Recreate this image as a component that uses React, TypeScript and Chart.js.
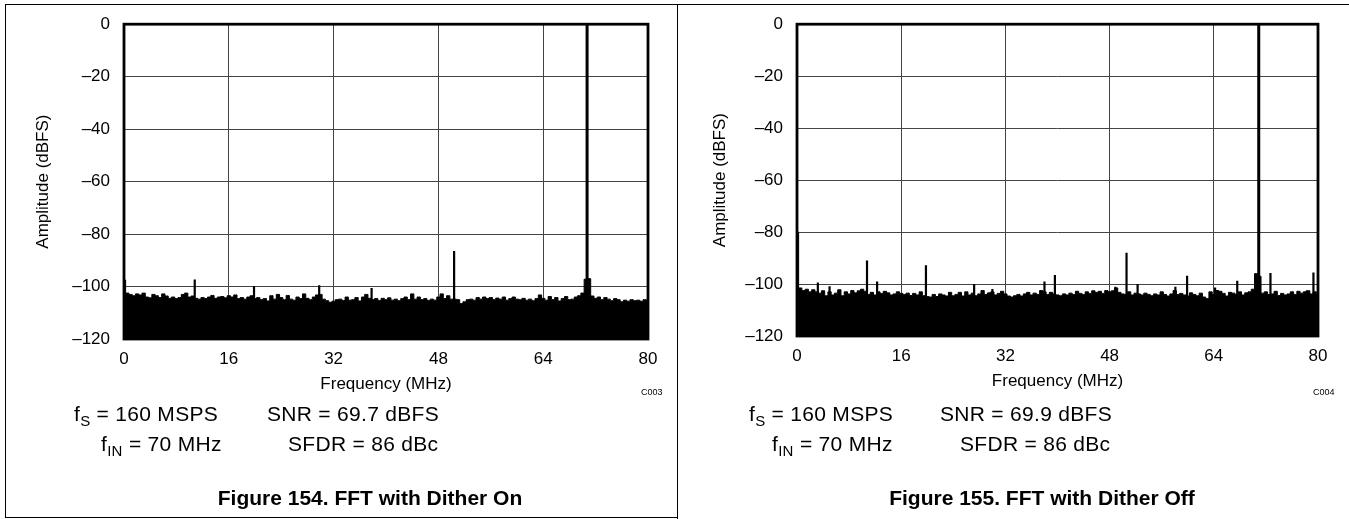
import React, { useEffect, useRef } from 'react';
import { Chart, registerables } from 'chart.js';

Chart.register(...registerables);

// ---------- data ----------
const xTickValues = [0, 16, 32, 48, 64, 80];
const yTickValues = [0, -20, -40, -60, -80, -100, -120];

// noise-floor envelope, one value every 0.5 MHz from 0 to 80 MHz
const noiseStepMHz = 0.5;

const ditherOnNoise = [
  -97.5, -102.5, -103.0, -103.5, -102.8, -103.2, -102.5, -104.0, -104.3, -103.0,
  -103.5, -104.2, -102.8, -103.6, -104.5, -104.0, -104.6, -104.2, -103.0, -102.5,
  -104.0, -103.6, -104.5, -104.8, -104.2, -104.6, -104.0, -103.4, -104.5, -104.0,
  -103.8, -104.3, -103.5, -104.0, -103.2, -104.6, -104.2, -104.8, -104.0, -103.5,
  -104.6, -104.2, -105.0, -104.6, -105.5, -103.5, -104.8, -103.0, -104.2, -105.0,
  -103.4, -104.8, -105.2, -104.0, -104.6, -102.8, -104.5, -105.0, -104.0, -103.2,
  -103.0, -104.8, -105.4, -106.0, -105.6, -105.0, -104.8, -105.3, -104.0, -105.2,
  -105.0, -104.2, -105.5, -104.0, -103.0, -104.5, -105.0, -104.6, -105.3, -104.5,
  -105.0, -104.3, -105.2, -104.8, -105.4, -104.6, -104.0, -105.0, -102.8, -104.8,
  -104.0, -105.0, -104.6, -105.3, -104.8, -105.2, -104.0, -102.8, -104.6, -103.5,
  -104.8, -104.8, -105.0, -106.5, -105.8, -105.0, -104.8, -105.2, -104.2, -104.8,
  -104.0, -104.6, -104.2, -105.0, -104.4, -104.8, -104.0, -105.2, -104.6, -104.0,
  -104.8, -105.0, -104.5, -105.2, -104.8, -105.4, -104.6, -103.2, -104.5, -105.2,
  -103.8, -105.0, -104.2, -105.5, -104.6, -103.8, -105.0, -104.8, -104.0, -103.5,
  -102.5, -97.2, -97.0, -103.6, -104.5, -104.0, -105.0, -104.2, -104.8, -105.4,
  -104.6, -105.0, -105.8, -105.2, -105.6, -105.0, -105.4, -105.2, -105.6, -105.0,
  -105.3,
];

const ditherOffNoise = [
  -80.0, -101.5, -102.5, -102.0, -103.0, -102.2, -103.0, -103.5, -102.6, -104.5,
  -103.0, -104.2, -103.5, -102.2, -104.5, -103.0, -103.8, -102.5, -103.4, -102.6,
  -102.0, -102.8, -104.0, -103.2, -104.2, -103.0, -103.6, -102.8, -103.4, -104.2,
  -103.8, -103.0, -103.6, -104.0, -103.5, -104.4, -103.6, -104.2, -103.0, -104.5,
  -104.8, -105.0, -104.0, -104.8, -103.8, -104.2, -104.6, -103.2, -104.5, -104.0,
  -103.2, -104.6, -103.0, -104.2, -103.5, -104.5, -103.8, -102.5, -104.0, -103.4,
  -103.0, -104.2, -103.6, -102.8, -103.8, -104.6, -105.0, -104.5, -104.0, -104.6,
  -103.8, -103.2, -104.2, -103.5, -104.0, -102.5, -103.0, -104.0, -103.2, -103.8,
  -104.2, -104.5, -103.8, -104.2, -103.5, -104.0, -102.8, -103.6, -104.0, -103.0,
  -103.6, -102.6, -103.2, -102.8, -103.6, -102.5, -103.0, -102.6, -101.5, -103.2,
  -103.8, -104.0, -103.0, -104.2, -103.5, -103.8, -104.2, -103.5, -104.0, -104.5,
  -103.8, -104.2, -103.0, -104.0, -104.6, -103.8, -102.5, -104.0, -103.6, -104.2,
  -104.6, -103.4, -104.0, -104.5, -103.5, -105.0, -105.6, -103.0, -104.0, -102.5,
  -102.8, -103.6, -104.6, -103.2, -103.5, -104.0, -103.0, -104.2, -103.4, -103.0,
  -102.0, -96.0, -97.0, -103.5, -103.0, -104.0, -103.8, -102.8, -104.4, -103.6,
  -104.2, -103.8, -103.0, -104.0, -102.8, -103.5, -103.0, -102.6, -103.8, -103.0,
  -104.0,
];

// spurs (frequency in MHz, level in dBFS)
const ditherOnSpurFreq = [10.8, 19.85, 29.8, 37.8, 50.4, 70.7];
const ditherOnSpurLevel = [-97.3, -99.8, -99.5, -100.6, -86.5, -0.3];

const ditherOffSpurFreq = [
  3.2, 5.0, 10.75, 12.3, 19.8, 27.2, 30.0, 38.0, 39.6, 48.9,
  50.6, 52.3, 58.1, 59.9, 64.2, 67.6, 70.9, 72.7, 78.3, 79.3,
];
const ditherOffSpurLevel = [
  -99.4, -100.9, -90.9, -99.0, -92.8, -100.0, -101.9, -99.0, -96.5, -101.0,
  -88.0, -100.0, -101.0, -96.8, -101.3, -98.7, -0.3, -95.8, -102.5, -95.6,
];

const FONT = '"Liberation Sans", Arial, Helvetica, sans-serif';

type PanelProps = {
  noise: number[];
  spurFreq: number[];
  spurLevel: number[];
  left: number;
  width: number;
  plotLeft: number;
  plotRight: number;
  plotTop: number;
  plotBottom: number;
  yTitleCenterX: number;
};

const fmtTick = (v: number) => (v < 0 ? '\u2013' + Math.abs(v) : String(v));

function SpectrumPanel(p: PanelProps) {
  const ref = useRef<HTMLCanvasElement | null>(null);
  useEffect(() => {
    const canvas = ref.current;
    if (!canvas) return;
    const H = 519;
    const xAxisH = 60;
    const noiseData = p.noise.map((v, i) => ({ x: i * noiseStepMHz, y: v }));
    const spurData: any[] = [];
    const mainData: any[] = [];
    p.spurFreq.forEach((f, i) => {
      const lvl = p.spurLevel[i];
      const target = lvl > -50 ? mainData : spurData;
      target.push({ x: f, y: -120 }, { x: f, y: lvl }, { x: f, y: null });
    });
    const frame = {
      id: 'frame',
      afterDatasetsDraw(chart: any) {
        const { ctx, chartArea } = chart;
        ctx.save();
        ctx.strokeStyle = '#000';
        ctx.lineWidth = 2.8;
        ctx.strokeRect(chartArea.left, chartArea.top, chartArea.right - chartArea.left, chartArea.bottom - chartArea.top);
        ctx.restore();
      },
    };
    const chart = new Chart(canvas, {
      type: 'line',
      data: {
        datasets: [
          {
            data: noiseData,
            borderColor: '#000',
            backgroundColor: '#000',
            borderWidth: 1,
            pointRadius: 0,
            fill: 'start',
            stepped: 'middle',
          } as any,
          {
            data: spurData,
            borderColor: '#000',
            borderWidth: 2.2,
            pointRadius: 0,
            fill: false,
            spanGaps: false,
          },
          {
            data: mainData,
            borderColor: '#000',
            borderWidth: 3,
            pointRadius: 0,
            fill: false,
            spanGaps: false,
          },
        ],
      },
      options: {
        animation: false,
        responsive: false,
        maintainAspectRatio: false,
        devicePixelRatio: 1,
        layout: {
          padding: {
            left: 0,
            top: p.plotTop,
            right: p.width - p.plotRight,
            bottom: H - p.plotBottom - xAxisH,
          },
        },
        plugins: { legend: { display: false }, tooltip: { enabled: false } },
        scales: {
          x: {
            type: 'linear',
            min: 0,
            max: 80,
            afterBuildTicks: (s: any) => {
              s.ticks = xTickValues.map((v) => ({ value: v }));
            },
            afterFit: (s: any) => {
              s.height = xAxisH;
            },
            grid: { color: '#444', lineWidth: 1, drawTicks: false },
            border: { display: false },
            ticks: {
              padding: 10,
              color: '#000',
              font: { family: FONT, size: 17 },
              maxRotation: 0,
              autoSkip: false,
              callback: (v: any) => fmtTick(Number(v)),
            },
            title: {
              display: true,
              text: 'Frequency (MHz)',
              color: '#000',
              font: { family: FONT, size: 17 },
              padding: { top: 0, bottom: 4 },
            },
          },
          y: {
            type: 'linear',
            min: -120,
            max: 0,
            afterBuildTicks: (s: any) => {
              s.ticks = yTickValues.map((v) => ({ value: v }));
            },
            afterFit: (s: any) => {
              s.width = p.plotLeft;
            },
            grid: { color: '#444', lineWidth: 1, drawTicks: false },
            border: { display: false },
            ticks: {
              padding: 14,
              color: '#000',
              font: { family: FONT, size: 17 },
              autoSkip: false,
              callback: (v: any) => fmtTick(Number(v)),
            },
            title: {
              display: true,
              text: 'Amplitude (dBFS)',
              color: '#000',
              font: { family: FONT, size: 17 },
              padding: { top: p.yTitleCenterX - 10.2, bottom: 0 },
            },
          },
        },
      },
      plugins: [frame],
    } as any);
    return () => chart.destroy();
  }, []);
  return (
    <canvas
      ref={ref}
      width={p.width}
      height={519}
      style={{ position: 'absolute', left: p.left, top: 0, width: p.width, height: 519, display: 'block' }}
    />
  );
}

const txt = (left: number, cy: number, size: number, content: React.ReactNode, extra: React.CSSProperties = {}) => (
  <div
    style={{
      position: 'absolute',
      left,
      top: cy,
      transform: 'translateY(-50%)',
      fontFamily: FONT,
      fontSize: size,
      lineHeight: 1,
      color: '#000',
      whiteSpace: 'nowrap',
      ...extra,
    }}
  >
    {content}
  </div>
);

const sub = (s: string) => (
  <span style={{ fontSize: 15, position: 'relative', top: 5 }}>{s}</span>
);

const centered = (cx: number, cy: number, size: number, content: React.ReactNode, bold = false) => (
  <div
    style={{
      position: 'absolute',
      left: cx,
      top: cy,
      transform: 'translate(-50%, -50%)',
      fontFamily: FONT,
      fontSize: size,
      fontWeight: bold ? 'bold' : 'normal',
      lineHeight: 1,
      color: '#000',
      whiteSpace: 'nowrap',
    }}
  >
    {content}
  </div>
);

const noteStyle: React.CSSProperties = { letterSpacing: 0.3 };

export default function App() {
  return (
    <div style={{ position: 'fixed', left: 0, top: 0, width: 1349, height: 519, background: '#fff', overflow: 'hidden' }}>
      <SpectrumPanel
        noise={ditherOnNoise}
        spurFreq={ditherOnSpurFreq}
        spurLevel={ditherOnSpurLevel}
        left={0}
        width={678}
        plotLeft={124}
        plotRight={648}
        plotTop={23}
        plotBottom={339}
        yTitleCenterX={43}
      />
      <SpectrumPanel
        noise={ditherOffNoise}
        spurFreq={ditherOffSpurFreq}
        spurLevel={ditherOffSpurLevel}
        left={678}
        width={671}
        plotLeft={119}
        plotRight={640}
        plotTop={21}
        plotBottom={336}
        yTitleCenterX={42}
      />
      {/* frames */}
      <div style={{ position: 'absolute', left: 5, top: 4, width: 1344, height: 0, borderTop: '1px solid #000' }} />
      <div style={{ position: 'absolute', left: 5, top: 4, width: 0, height: 514, borderLeft: '1px solid #000' }} />
      <div style={{ position: 'absolute', left: 5, top: 517, width: 673, height: 0, borderTop: '1px solid #000' }} />
      <div style={{ position: 'absolute', left: 677, top: 4, width: 0, height: 515, borderLeft: '1px solid #000' }} />

      {/* left annotations */}
      {txt(641, 392, 9, 'C003')}
      {txt(74, 413, 21, <>f{sub('S')} = 160 MSPS</>, noteStyle)}
      {txt(267, 413, 21, 'SNR = 69.7 dBFS', noteStyle)}
      {txt(101, 443, 21, <>f{sub('IN')} = 70 MHz</>, noteStyle)}
      {txt(288, 443, 21, 'SFDR = 86 dBc', noteStyle)}
      {centered(370, 497, 21, 'Figure 154. FFT with Dither On', true)}

      {/* right annotations */}
      {txt(1313, 392, 9, 'C004')}
      {txt(749, 413, 21, <>f{sub('S')} = 160 MSPS</>, noteStyle)}
      {txt(940, 413, 21, 'SNR = 69.9 dBFS', noteStyle)}
      {txt(772, 443, 21, <>f{sub('IN')} = 70 MHz</>, noteStyle)}
      {txt(960, 443, 21, 'SFDR = 86 dBc', noteStyle)}
      {centered(1042, 497, 21, 'Figure 155. FFT with Dither Off', true)}
    </div>
  );
}
